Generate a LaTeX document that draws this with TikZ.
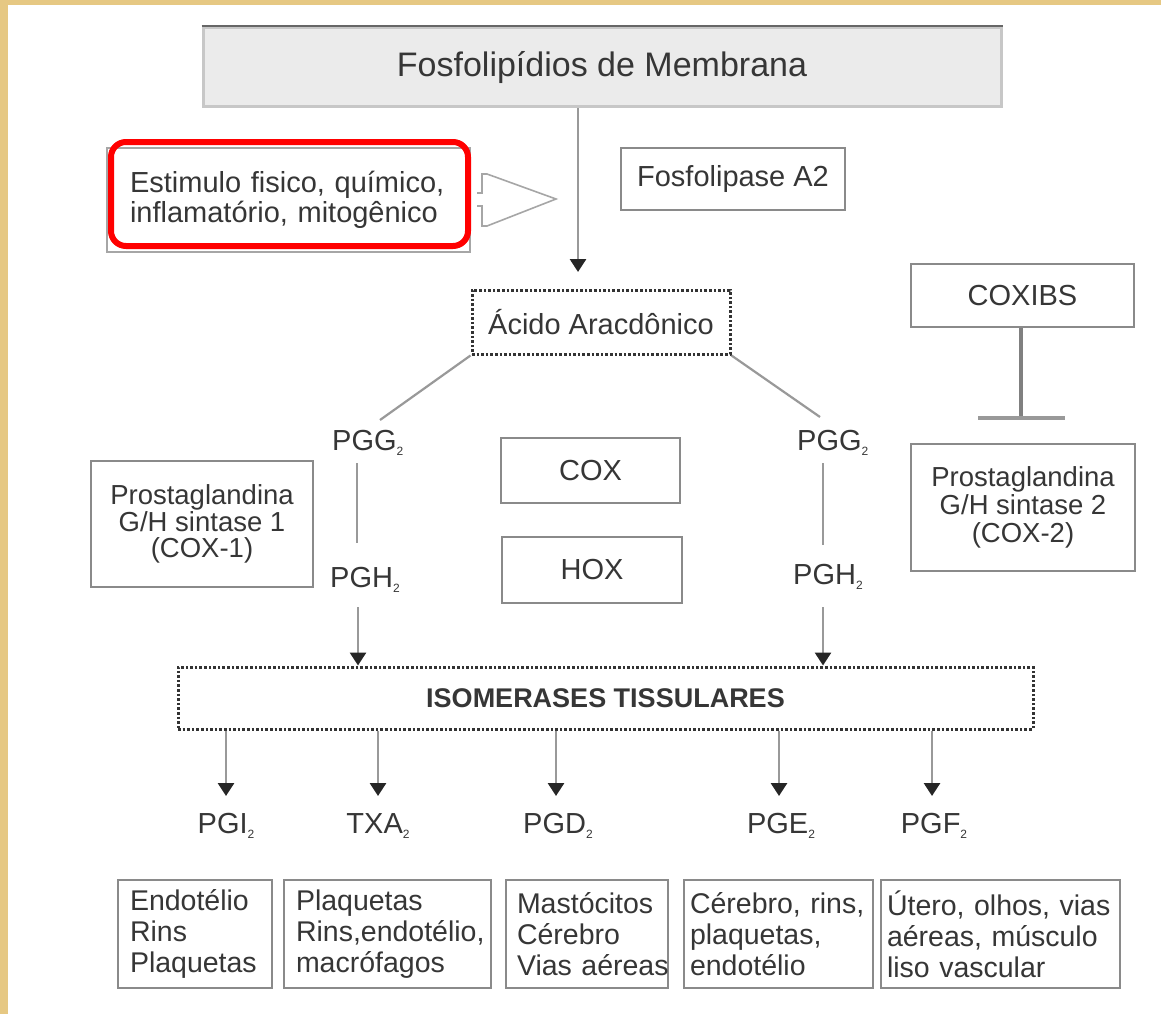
\documentclass[tikz,border=0pt]{standalone}
\usepackage{fontspec}
\setmainfont{Liberation Sans}
\usetikzlibrary{arrows.meta}
\definecolor{parch}{HTML}{E6C883}
\definecolor{ink}{HTML}{363636}
\definecolor{frame}{HTML}{8A8A8A}
% small lowered index, as in PGG2
\newcommand\subidx[1]{\raisebox{-5pt}{\fontsize{12}{12}\selectfont #1}}
\begin{document}
\begin{tikzpicture}[x=1pt,y=-1pt,
  box/.style={draw=frame, line width=2.6pt, fill=white, inner sep=0pt, text=ink,
    align=center, font=\fontsize{29}{27}\selectfont},
  dotbox/.style={draw=black!80, line width=3pt, dash pattern=on 2.6pt off 2pt,
    fill=white, inner sep=0pt, text=ink},
  bot/.style={box, align=left, minimum height=108pt, inner ysep=0pt,
    font=\fontsize{28.5}{31}\selectfont},
  lbl/.style={text=ink, inner sep=0pt, font=\fontsize{29}{29}\selectfont},
  flow/.style={draw=black!40, line width=2.8pt,
    -{Triangle[width=16pt,length=13pt,color=black!85]}},
  link/.style={draw=black!40, line width=2.2pt}]

% page: parchment edge and white sheet
\fill[parch] (0,0) rectangle (1161,1014);
\fill[white] (8,5) rectangle (1161,1014);
\useasboundingbox (0,0) rectangle (1161,1014);

% membrane phospholipids
\node[box, draw=black!22, fill=black!8, line width=3pt, minimum width=798pt,
  minimum height=79pt, font=\fontsize{34}{34}\selectfont]
  (fosfo) at (602,67.5) {Fosfolipídios de Membrana};
\draw[black!60, line width=2pt] (fosfo.north west) -- (fosfo.north east);

% stimulus box, highlighted in red
\node[box, draw=black!35, line width=2pt, minimum width=363pt, minimum height=104pt,
  align=left, text width=325pt, inner xsep=19pt, font=\fontsize{29}{30}\selectfont]
  (stim) at (288.5,200) {\hspace*{4pt}Estimulo fisico, químico,\\\hspace*{4pt}inflamatório, mitogênico};
\draw[red, line width=6pt, rounded corners=15pt] (111,142) rectangle (468,246);

% hollow block arrow from the stimulus
\draw[black!35, line width=1.6pt, line join=miter]
  (477,193) -- (482,193) -- (482,174) -- (487,174) -- (556,199)
  -- (487,226) -- (482,226) -- (482,206) -- (477,206);

\node[box, minimum width=224pt, minimum height=62pt] (pla2) at (733,179) {Fosfolipase A2};

% arachidonic acid
\node[dotbox, minimum width=258pt, minimum height=64pt, font=\fontsize{29}{29}\selectfont]
  (acido) at (601,322) {Ácido Aracdônico};
\coordinate (aaIn) at (578,272);
\draw[flow] (fosfo.south -| aaIn) -- (aaIn);

% enzymes
\node[box, minimum width=222pt, minimum height=126pt, font=\fontsize{27.5}{26.5}\selectfont]
  (cox1) at (202,524) {Prostaglandina\\G/H sintase 1\\(COX-1)};
\node[box, minimum width=179pt, minimum height=65pt] (cox) at (590.5,470.5) {COX};
\node[box, minimum width=180pt, minimum height=66pt] (hox) at (592,570) {HOX};
\node[box, minimum width=223pt, minimum height=63pt] (coxibs) at (1022.5,295.5) {COXIBS};
\node[box, minimum width=224pt, minimum height=127pt, font=\fontsize{27.5}{28}\selectfont]
  (cox2) at (1023,507.5) {Prostaglandina\\G/H sintase 2\\(COX-2)};

% COXIBS inhibit COX-2
\coordinate (stop) at (1021,418);
\draw[black!50, line width=4pt] (coxibs.south -| stop) -- (stop);
\draw[black!40, line width=3.5pt] ([xshift=-43pt]stop) -- ([xshift=44pt]stop);

% intermediates
\node[lbl, anchor=west] (pggL) at (332,443) {PGG\subidx{2}};
\node[lbl, anchor=west] (pghL) at (330,580) {PGH\subidx{2}};
\node[lbl, anchor=west] (pggR) at (797,443) {PGG\subidx{2}};
\node[lbl, anchor=west] (pghR) at (793,577) {PGH\subidx{2}};

\coordinate (gL) at (380,420);
\coordinate (gR) at (820,417);
\draw[link] (acido.south west) -- (gL);
\draw[link] (acido.south east) -- (gR);

\coordinate (vLa) at (357,463);
\coordinate (vLb) at (357,543);
\coordinate (vRa) at (823,463);
\coordinate (vRb) at (823,545);
\draw[link] (vLa) -- (vLb);
\draw[link] (vRa) -- (vRb);

% tissue isomerases
\node[dotbox, minimum width=855pt, minimum height=62pt,
  font=\bfseries\fontsize{27}{27}\selectfont]
  (iso) at (605.5,698) {ISOMERASES TISSULARES};

\coordinate (hL) at (358,607);
\coordinate (hR) at (823,607);
\draw[flow] (hL) -- (hL |- iso.north);
\draw[flow] (hR) -- (hR |- iso.north);

% products
\node[lbl] (pgi) at (226,826) {PGI\subidx{2}};
\node[lbl] (txa) at (378,826) {TXA\subidx{2}};
\node[lbl] (pgd) at (558,826) {PGD\subidx{2}};
\node[lbl] (pge) at (781,826) {PGE\subidx{2}};
\node[lbl] (pgf) at (934,826) {PGF\subidx{2}};
\foreach \p/\xa in {pgi/226,txa/378,pgd/556,pge/779,pgf/932}
  \draw[flow] (iso.south -| \xa,0) -- (\xa,796);

% target tissues
\node[bot, text width=130pt, inner xsep=12pt] (t1) at (195,934)
  {Endotélio\\Rins\\Plaquetas};
\node[bot, text width=183pt, inner xsep=12pt] (t2) at (387.5,934)
  {Plaquetas\\\mbox{Rins,endotélio,}\\macrófagos};
\node[bot, text width=140pt, inner xsep=11pt] (t3) at (587,934)
  {Mastócitos\\Cérebro\\\mbox{Vias aéreas}};
\node[bot, text width=177pt, inner xsep=6pt] (t4) at (778.5,934)
  {Cérebro, rins,\\plaquetas,\\endotélio};
\node[bot, text width=227pt, inner xsep=6pt] (t5) at (1000.5,934)
  {\mbox{Útero, olhos, vias}\\aéreas, músculo\\liso vascular};
\end{tikzpicture}
\end{document}
